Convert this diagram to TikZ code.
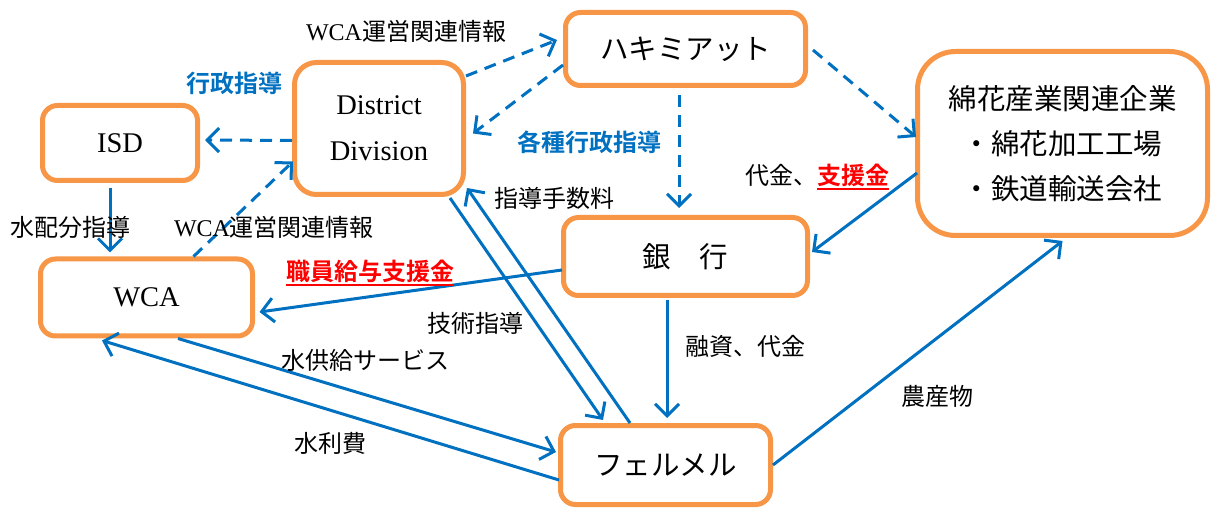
\documentclass[tikz,border=0pt]{standalone}
\usepackage{fontspec}
\setmainfont{Liberation Serif}
\newfontfamily\jp{Noto Sans CJK JP}[BoldFont={Noto Sans CJK JP Bold}]
\usetikzlibrary{arrows.meta}
\definecolor{obox}{HTML}{F79646}
\definecolor{barrow}{HTML}{0070C0}
\definecolor{ared}{HTML}{FF0000}
\newcommand\myul[1]{\setbox0\hbox{#1}\rlap{\raisebox{-6pt}{\rule{\wd0}{2.5pt}}}\box0}
\begin{document}
\begin{tikzpicture}[x=1pt,y=-1pt,
 box/.style={draw=obox, line width=5pt, fill=white, rounded corners=15pt, inner sep=0pt, align=center},
 jpn/.style={font=\jp\fontsize{28.5}{28.5}\selectfont},
 ser/.style={font=\fontsize{28.5}{46}\selectfont},
 lab/.style={font=\jp\fontsize{24}{24}\selectfont, inner sep=0pt},
 blab/.style={font=\jp\bfseries\fontsize{24}{24}\selectfont, inner sep=0pt, text=barrow},
 rlab/.style={font=\jp\bfseries\fontsize{24}{24}\selectfont, inner sep=0pt, text=ared},
 flow/.style={draw=barrow, line width=3pt, -{Straight Barb[length=12pt,width=24pt]}},
 dflow/.style={flow, dash pattern=on 12pt off 8pt},
]
\useasboundingbox (0,0) rectangle (1215,510);
% nodes
\node[box, jpn, minimum width=240, minimum height=73] (hak) at (685.5,49) {ハキミアット};
\node[box, ser, rounded corners=22pt, minimum width=169, minimum height=132] (dd) at (379,128.5) {District\\Division};
\node[box, ser, minimum width=155, minimum height=75] (isd) at (120,143) {ISD};
\node[box, rounded corners=38pt, minimum width=290, minimum height=184, font=\jp\fontsize{28.5}{45}\selectfont] (cot) at (1062.5,143.5) {綿花産業関連企業\\・綿花加工工場\\・鉄道輸送会社};
\node[box, jpn, minimum width=244, minimum height=78] (bank) at (685.5,256.5) {銀　行};
\node[box, ser, minimum width=212, minimum height=77] (wca) at (146.5,297.5) {WCA};
\node[box, jpn, minimum width=210, minimum height=79] (fer) at (665.5,465) {フェルメル};
% connectors
\draw[dflow] ([shift={(0,16)}]dd.north east) -- ([shift={(-6,-9)}]hak.west);
\draw[dflow] ([shift={(0,16)}]hak.west) -- ([shift={(7,5)}]dd.east);
\draw[dflow] ([shift={(0,12)}]dd.west) -- ([shift={(5,-3)}]isd.east);
\draw[dflow] ([shift={(47,0)}]wca.north) -- ([shift={(1,33)}]dd.west);
\draw[flow] ([shift={(-10,5)}]isd.south) -- ([shift={(-36.5,-4)}]wca.north);
\draw[dflow] ([shift={(-6.5,7)}]hak.south) -- ([shift={(-6.5,-7)}]bank.north);
\draw[dflow] ([shift={(5,1)}]hak.east) -- ([shift={(1,-6.5)}]cot.west);
\draw[flow] ([shift={(2,29.5)}]cot.west) -- ([shift={(2,-4.5)}]bank.east);
\draw[flow] ([shift={(1,13.5)}]bank.west) -- ([shift={(4.5,14.5)}]wca.east);
\draw[flow] ([shift={(-16,1)}]dd.south east) -- ([shift={(-62.5,-3)}]fer.north);
\draw[flow] ([shift={(-35.5,0)}]fer.north) -- ([shift={(1,-9)}]dd.south east);
\draw[flow] ([shift={(-18.5,2)}]bank.south) -- ([shift={(1.5,-5)}]fer.north);
\draw[flow] (fer.east) -- ([shift={(0,3)}]cot.south);
\draw[flow] ([shift={(31.5,0)}]wca.south) -- ([shift={(-2,-13)}]fer.west);
\draw[flow] ([shift={(1,15)}]fer.west) -- ([shift={(64,2)}]wca.south west);
% labels
\node[lab] (l1) at (406,31) {\rmfamily WCA\jp 運営関連情報};
\node[blab] (l2) at (234,83) {行政指導};
\node[lab] (l3) at (70,227) {水配分指導};
\node[lab] (l4) at (274,227) {\rmfamily WCA\jp 運営関連情報};
\node[blab] (l5) at (589,142) {各種行政指導};
\node[lab] (l6) at (817,177) {代金、\textcolor{ared}{\myul{\bfseries 支援金}}};
\node[rlab] (l7) at (370,273) {\myul{職員給与支援金}};
\node[lab] (l8) at (475,323) {技術指導};
\node[lab] (l9) at (554,198) {指導手数料};
\node[lab] (l10) at (745,346) {融資、代金};
\node[lab] (l11) at (937,396) {農産物};
\node[lab] (l12) at (365,360) {水供給サービス};
\node[lab] (l13) at (330,443) {水利費};
\end{tikzpicture}
\end{document}
